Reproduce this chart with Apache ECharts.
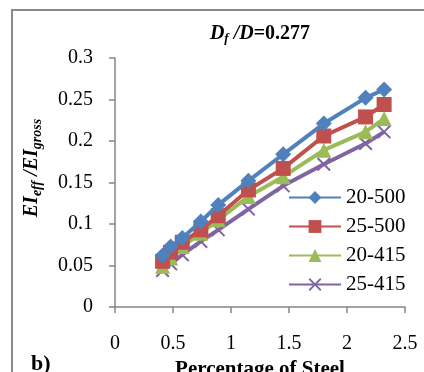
<!DOCTYPE html>
<html><head><meta charset="utf-8">
<script src="https://cdn.jsdelivr.net/npm/echarts@6/dist/echarts.min.js"></script>
<style>html,body{margin:0;padding:0;background:#fff}#c{width:424px;height:372px}</style>
</head><body><div id="c"></div>
<script>
const steelPct = [0.41, 0.48, 0.58, 0.74, 0.89, 1.15, 1.45, 1.80, 2.16, 2.32];
const s20_500 = [0.062, 0.073, 0.083, 0.103, 0.123, 0.152, 0.184, 0.221, 0.252, 0.262];
const s25_500 = [0.055, 0.066, 0.078, 0.093, 0.110, 0.141, 0.167, 0.206, 0.229, 0.244];
const s20_415 = [0.049, 0.059, 0.073, 0.089, 0.105, 0.133, 0.157, 0.189, 0.211, 0.227];
const s25_415 = [0.044, 0.052, 0.063, 0.079, 0.093, 0.118, 0.146, 0.172, 0.197, 0.211];
const seriesNames = ['20-500', '25-500', '20-415', '25-415'];
const xTicks = [0, 0.5, 1, 1.5, 2, 2.5];
const yTicks = [0, 0.05, 0.1, 0.15, 0.2, 0.25, 0.3];

const F = '"Liberation Serif", "Times New Roman", serif';
const colors = ['#4F81BD', '#C0504D', '#9BBB59', '#8064A2'];
const crossPath = 'path://M0,1L1,0L5,4L9,0L10,1L6,5L10,9L9,10L5,6L1,10L0,9L4,5Z';
const symbols = ['diamond', 'rect', 'triangle', crossPath];
const symSizes = [16, 15, 15, 14];
const allData = [s20_500, s25_500, s20_415, s25_415];

const chart = echarts.init(document.getElementById('c'), null, {renderer: 'canvas'});
const series = allData.map((arr, i) => ({
  name: seriesNames[i],
  type: 'line',
  data: arr.map((v, j) => [steelPct[j], v]),
  symbol: symbols[i],
  symbolSize: symSizes[i],
  showAllSymbol: true,
  lineStyle: {color: colors[i], width: 4},
  itemStyle: {color: colors[i]},
  z: 10 - i
}));

chart.setOption({
  animation: false,
  backgroundColor: '#fff',
  graphic: [
    {type: 'rect', shape: {x: 12, y: 10, width: 440, height: 400}, style: {fill: 'none', stroke: '#8a8a8a', lineWidth: 2}, z: -1},
    {type: 'text', left: 31, top: 353, style: {text: 'b)', font: 'bold 22px ' + F, fill: '#000'}},
    {type: 'text', x: 32, y: 168, rotation: Math.PI / 2,
     style: {
       text: '{b|EI}{s|eff}{b| /EI}{s|gross}',
       align: 'center', verticalAlign: 'middle',
       rich: {
         b: {fontFamily: F, fontWeight: 'bold', fontStyle: 'italic', fontSize: 20, fill: '#000'},
         s: {fontFamily: F, fontWeight: 'bold', fontStyle: 'italic', fontSize: 14, fill: '#000', padding: [10, 0, 0, 0]}
       }
     }}
  ],
  title: {
    text: '{i|D}{s|f}{i| /D}{b|=0.277}',
    left: 255, top: 17, textAlign: 'center',
    textStyle: {
      rich: {
        i: {fontFamily: F, fontWeight: 'bold', fontStyle: 'italic', fontSize: 20, color: '#000'},
        s: {fontFamily: F, fontWeight: 'bold', fontStyle: 'italic', fontSize: 13, color: '#000', padding: [10, 0, 0, 0]},
        b: {fontFamily: F, fontWeight: 'bold', fontSize: 20, color: '#000'}
      }
    }
  },
  legend: {
    orient: 'vertical',
    left: 283, top: 181,
    itemWidth: 52, itemHeight: 16, itemGap: 6,
    data: seriesNames,
    textStyle: {fontFamily: F, fontSize: 21, color: '#000', lineHeight: 23, padding: [0, 0, 0, 0]},
    backgroundColor: 'rgba(0,0,0,0)'
  },
  grid: {left: 115, right: 19, top: 58, bottom: 65, containLabel: false, outerBoundsMode: 'none'},
  xAxis: {
    type: 'value', min: 0, max: 2.5, interval: 0.5,
    name: 'Percentage of Steel', nameLocation: 'middle', nameGap: 50,
    nameTextStyle: {fontFamily: F, fontWeight: 'bold', fontSize: 21, color: '#000'},
    axisLine: {lineStyle: {color: '#868686', width: 1.5}},
    axisTick: {show: true, length: 6, inside: false, lineStyle: {color: '#868686', width: 1.5}},
    axisLabel: {margin: 27, fontFamily: F, fontSize: 20, color: '#000', formatter: v => String(v)},
    splitLine: {show: false}
  },
  yAxis: {
    type: 'value', min: 0, max: 0.3, interval: 0.05,
    axisLine: {show: true, lineStyle: {color: '#868686', width: 1.5}},
    axisTick: {show: true, length: 6, lineStyle: {color: '#868686', width: 1.5}},
    axisLabel: {margin: 22, fontFamily: F, fontSize: 20, color: '#000', formatter: v => String(+v.toFixed(2))},
    splitLine: {show: false}
  },
  series: series
});
</script>
</body></html>
